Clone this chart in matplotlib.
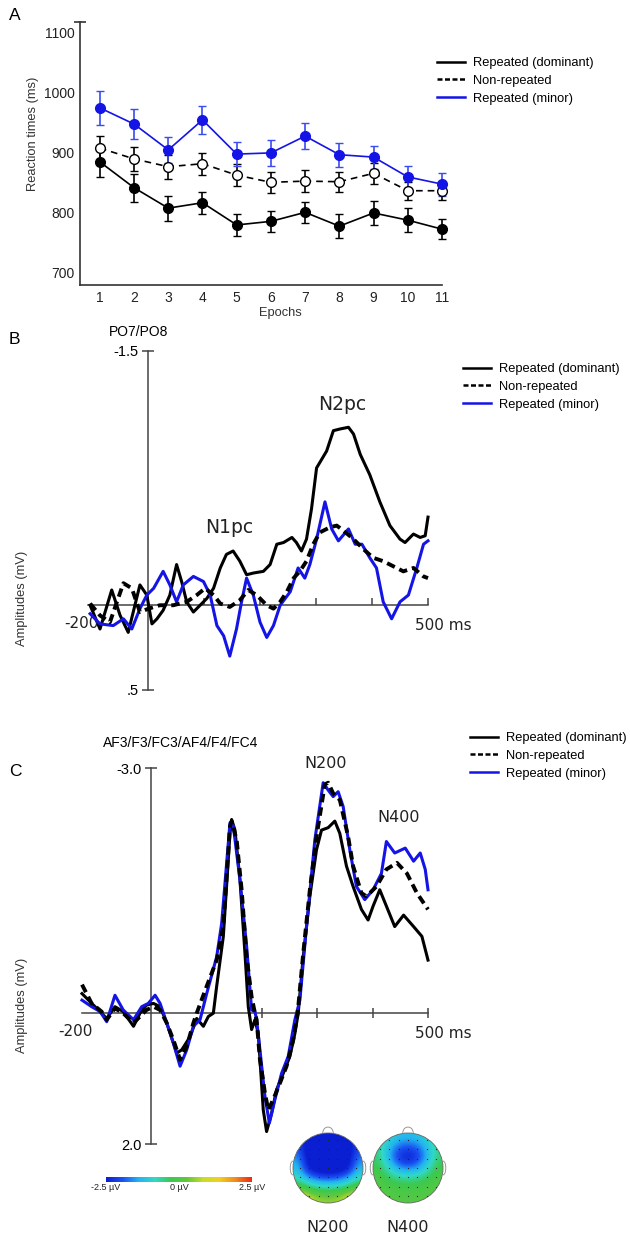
import numpy as np
import matplotlib.pyplot as plt
from matplotlib.lines import Line2D
from matplotlib.colors import LinearSegmentedColormap, Normalize
from matplotlib.cm import ScalarMappable
from matplotlib.patches import Circle, Arc

W, H = 630, 1237
SANS = ['Liberation Sans', 'DejaVu Sans']
VERD = ['DejaVu Sans']
BLUE = '#1414e6'
plt.rcParams['font.family'] = SANS

series_names = ['Repeated (dominant)', 'Non-repeated', 'Repeated (minor)']

# ---- A: reaction times (ms) per epoch
epochs = list(range(1, 12))
rt_dom = [885, 842, 808, 817, 780, 786, 801, 778, 800, 788, 773]
rt_dom_err = [25, 23, 21, 18, 18, 17, 17, 20, 20, 20, 17]
rt_non = [908, 890, 877, 882, 863, 851, 853, 852, 866, 837, 837]
rt_non_err = [20, 20, 20, 18, 18, 17, 18, 17, 17, 15, 15]
rt_min = [975, 948, 905, 955, 898, 900, 928, 897, 893, 860, 848]
rt_min_err = [28, 25, 22, 23, 20, 22, 22, 20, 19, 18, 19]

# ---- B: PO7/PO8 waveforms (ms, amplitude)
b_t_dom = [-193, -160, -121, -93, -66, -27, -4, 7, 16, 27, 39, 51, 60, 69, 81, 93, 105, 117, 129, 140,
           152, 164, 176, 188, 206, 218, 230, 242, 257, 265, 274, 283, 292, 301, 310, 319, 331, 343, 358, 367,
           379, 396, 414, 432, 450, 459, 474, 486, 495, 500]
b_v_dom = [0.00, 0.14, -0.09, 0.06, 0.16, -0.12, -0.06, 0.11, 0.08, 0.03, -0.06, -0.24, -0.14, -0.02, 0.04, 0.00,
           -0.04, -0.10, -0.22, -0.30, -0.32, -0.26, -0.18, -0.19, -0.20, -0.24, -0.36, -0.37, -0.40, -0.37,
           -0.32, -0.39, -0.57, -0.81, -0.86, -0.91, -1.03, -1.04, -1.05, -1.01, -0.89, -0.77, -0.61, -0.47,
           -0.39, -0.37, -0.42, -0.40, -0.41, -0.52]
b_t_non = [-193, -160, -127, -82, -54, -27, 1, 21, 45, 69, 87, 102, 117, 129, 146, 164, 179, 194, 212, 224,
           236, 248, 260, 271, 283, 295, 307, 325, 337, 349, 367, 385, 402, 420, 438, 456, 474, 492, 500]
b_v_non = [-0.01, 0.06, 0.10, -0.13, -0.10, 0.04, 0.02, 0, 0, -0.02, -0.06, -0.10, -0.06, -0.01, 0.01, -0.03,
           -0.09, -0.06, 0, 0.02, -0.02, -0.08, -0.16, -0.20, -0.26, -0.36, -0.43, -0.46, -0.47, -0.44,
           -0.39, -0.33, -0.28, -0.26, -0.23, -0.20, -0.22, -0.17, -0.16]
b_t_min = [-193, -160, -116, -82, -54, -27, -4, 10, 27, 39, 51, 63, 81, 99, 111, 123, 135, 146, 158, 167,
           176, 188, 200, 212, 224, 236, 254, 268, 280, 289, 301, 316, 328, 340, 358, 370, 382, 396, 408, 420,
           435, 450, 465, 480, 492, 500]
b_v_min = [0.05, 0.11, 0.12, 0.08, 0.14, 0.02, -0.06, -0.10, -0.20, -0.12, -0.02, -0.12, -0.17, -0.14, -0.06,
           0.12, 0.18, 0.30, 0.14, -0.02, -0.16, -0.06, 0.10, 0.19, 0.12, 0, -0.08, -0.22, -0.16, -0.24,
           -0.39, -0.61, -0.45, -0.38, -0.45, -0.36, -0.36, -0.28, -0.22, -0.02, 0.08, -0.02, -0.06, -0.22,
           -0.36, -0.38]

# ---- C: AF3/F3/FC3/AF4/F4/FC4 waveforms (ms, amplitude)
c_t_dom = [-200, -128, -104, -80, -50, -31, -12, 5, 17, 29, 47, 56, 71, 83, 95, 104, 113, 119, 131, 143,
           146, 152, 161, 170, 176, 182, 188, 194, 203, 209, 218, 227, 239, 251, 260, 266, 275, 287, 299, 308,
           320, 332, 341, 353, 365, 380, 392, 401, 413, 425, 440, 456, 474, 489, 500]
c_v_dom = [-0.24, 0.08, -0.08, -0.02, 0.20, 0, -0.10, -0.12, -0.08, 0.15, 0.61, 0.56, 0.36, 0.08, 0.20, 0.05,
           0, -0.33, -0.94, -2.20, -2.37, -2.24, -1.63, -0.73, -0.08, 0.25, 0.10, 0.31, 1.48, 1.81,
           1.53, 1.17, 0.92, 0.66, 0.31, 0, -0.69, -1.43, -2.0, -2.24, -2.27, -2.35, -2.20, -1.80, -1.55,
           -1.27, -1.14, -1.31, -1.51, -1.31, -1.06, -1.20, -1.06, -0.94, -0.65]
c_t_non = [-200, -172, -143, -128, -104, -80, -50, -31, -12, 5, 17, 29, 41, 53, 65, 77, 83, 101, 119, 131,
           143, 146, 155, 164, 173, 182, 188, 191, 197, 206, 212, 221, 233, 245, 257, 265, 275, 287, 299, 314,
           320, 329, 341, 356, 365, 380, 389, 407, 425, 444, 462, 480, 492, 500]
c_v_non = [-0.35, -0.12, -0.02, 0.10, -0.06, 0, 0.15, 0.05, -0.04, -0.08, -0.04, 0.15, 0.41, 0.71, 0.51, 0.15,
           0, -0.33, -0.65, -1.06, -2.29, -2.35, -2.12, -1.51, -0.69, -0.20, 0, 0.10, 0.71, 1.22,
           1.48, 1.32, 1.07, 0.81, 0.41, 0, -0.73, -1.51, -2.16, -2.80, -2.82, -2.69, -2.61, -2.16, -1.80,
           -1.47, -1.43, -1.55, -1.76, -1.84, -1.71, -1.47, -1.35, -1.27]
c_t_min = [-200, -172, -147, -128, -104, -80, -50, -26, -7, 8, 17, 29, 41, 53, 65, 77, 89, 101, 119, 128,
           143, 149, 161, 173, 182, 188, 191, 197, 206, 214, 224, 236, 248, 260, 269, 281, 296, 311, 320, 329,
           338, 347, 359, 371, 386, 401, 416, 425, 440, 459, 474, 486, 495, 500]
c_v_min = [-0.16, -0.08, -0.02, 0.13, -0.22, -0.04, 0.10, -0.08, -0.12, -0.22, -0.12, 0.15, 0.46, 0.81, 0.56,
           0.20, 0.10, -0.24, -0.69, -1.10, -2.33, -2.29, -1.63, -0.82, -0.04, -0.02, 0.10, 0.56, 1.27, 1.68,
           1.32, 0.92, 0.66, 0.10, -0.16, -1.06, -2.12, -2.82, -2.73, -2.65, -2.71, -2.53, -2.0, -1.55, -1.39,
           -1.51, -1.71, -2.10, -1.96, -2.02, -1.86, -1.96, -1.76, -1.51]

# ---- scalp maps (uV), rows front -> back
topo_n200 = [[-2.2, -2.6, -2.8, -2.8, -2.8, -2.6, -2.2],
             [-1.9, -2.8, -3.0, -3.0, -3.0, -2.8, -2.0],
             [-1.5, -2.7, -3.0, -3.0, -3.0, -2.8, -1.7],
             [-1.2, -2.5, -2.9, -3.0, -2.9, -2.6, -1.3],
             [-0.8, -1.5, -1.9, -2.0, -1.9, -1.5, -0.8],
             [0.2, -0.2, -0.5, -0.6, -0.5, -0.2, 0.2],
             [1.6, 1.0, 0.6, 0.5, 0.6, 1.0, 1.6]]
topo_n400 = [[-0.5, -0.9, -1.2, -1.3, -1.2, -0.9, -0.5],
             [-0.5, -1.2, -1.9, -2.1, -1.9, -1.2, -0.5],
             [-0.4, -1.3, -2.2, -2.6, -2.2, -1.3, -0.4],
             [-0.2, -0.8, -1.5, -1.7, -1.5, -0.8, -0.2],
             [0.0, -0.3, -0.5, -0.6, -0.5, -0.3, 0.0],
             [0.1, 0.0, -0.1, -0.1, -0.1, 0.0, 0.1],
             [0.2, 0.1, 0.1, 0.0, 0.1, 0.1, 0.2]]

cmap = LinearSegmentedColormap.from_list('topo', ['#0a1ed2', '#1a50f0', '#22b4f0', '#30d8c8', '#3cc850',
                                                  '#60c83c', '#c8dc28', '#f0d020', '#f08a1e', '#f02814'])

fig = plt.figure(figsize=(W / 100, H / 100), dpi=100)


def px_box(x0, y0, x1, y1):
    return [x0 / W, 1 - y1 / H, (x1 - x0) / W, (y1 - y0) / H]


def ftext(x, y, s, **kw):
    kw.setdefault('ha', 'center')
    kw.setdefault('va', 'center')
    fig.text(x / W, 1 - y / H, s, **kw)


def squeeze(k, negative=True):
    # piecewise linear axis: one side of zero is drawn compressed by k
    if negative:
        fwd = lambda v: np.where(np.asarray(v) < 0, np.asarray(v) * k, v)
        inv = lambda v: np.where(np.asarray(v) < 0, np.asarray(v) / k, v)
    else:
        fwd = lambda v: np.where(np.asarray(v) > 0, np.asarray(v) * k, v)
        inv = lambda v: np.where(np.asarray(v) > 0, np.asarray(v) / k, v)
    return fwd, inv


def add_legend(x, y):
    handles = [Line2D([], [], color='black', lw=1.8),
               Line2D([], [], color='black', lw=1.8, ls=(0, (2, 1))),
               Line2D([], [], color=BLUE, lw=1.8)]
    fig.legend(handles, series_names, loc='upper left', bbox_to_anchor=(x / W, 1 - y / H),
               frameon=False, prop={'family': SANS, 'size': 9.3}, handlelength=2.2,
               handletextpad=0.6, labelspacing=0.45, borderpad=0, borderaxespad=0)


# ================= A
ax = fig.add_axes(px_box(80, 22, 442, 285))
ax.errorbar(epochs, rt_dom, yerr=rt_dom_err, color='black', marker='o', ms=7, lw=1.2,
            capsize=3, elinewidth=1.2, clip_on=False, zorder=3)
ax.errorbar(epochs, rt_non, yerr=rt_non_err, color='black', marker='o', ms=7, lw=1.2, ls=(0, (4, 3)),
            mfc='white', mec='black', capsize=3, elinewidth=1.2, clip_on=False, zorder=3)
ax.errorbar(epochs, rt_min, yerr=rt_min_err, color=BLUE, marker='o', ms=7, lw=1.2,
            capsize=3, elinewidth=1.2, ecolor='#3a4cf0', clip_on=False, zorder=3)
ax.set_xlim(0.42, 11.0)
ax.set_ylim(680, 1118)
ax.set_xticks(epochs)
ax.set_yticks([700, 800, 900, 1000, 1100])
ax.set_yticks([1118], minor=True)
ax.tick_params(length=0, labelsize=10, pad=4, colors='#222')
ax.tick_params(axis='y', which='minor', direction='inout', length=9, width=1.2, color='#333')
for s in ('top', 'right'):
    ax.spines[s].set_visible(False)
for s in ('left', 'bottom'):
    ax.spines[s].set_color('#333')
    ax.spines[s].set_linewidth(1.2)
ftext(33, 134, 'Reaction times (ms)', rotation=90, fontsize=9.3, color='#333')
ftext(280, 313, 'Epochs', fontsize=9.3, color='#333')
ftext(15, 16, 'A', fontsize=12.5)
add_legend(437, 57)


# ================= B and C
def erp_axes(box, k_pre, ylim, yticks, ylabels, xticks, xdir, ypos_k=None):
    a = fig.add_axes(px_box(*box))
    a.set_xscale('function', functions=squeeze(k_pre))
    if ypos_k is not None:
        a.set_yscale('function', functions=squeeze(ypos_k, negative=False))
    a.set_xlim(-200, 500)
    a.set_ylim(*ylim)
    a.spines['left'].set_position(('data', 0))
    a.spines['bottom'].set_position(('data', 0))
    for s in ('top', 'right'):
        a.spines[s].set_visible(False)
    for s in ('left', 'bottom'):
        a.spines[s].set_color('#444')
        a.spines[s].set_linewidth(1.1)
    a.set_yticks(yticks, ylabels)
    a.set_xticks(xticks, [''] * len(xticks))
    a.tick_params(axis='y', direction='inout', length=9, width=1.1, color='#444', labelsize=10.5, pad=2)
    a.tick_params(axis='x', direction=xdir, length=7 if xdir == 'inout' else 5, width=1.1, color='#444')
    a.patch.set_alpha(0)
    return a


def draw_traces(a, td, vd, tn, vn, tm, vm):
    a.plot(td, vd, color='black', lw=2.2, solid_joinstyle='round', clip_on=False, zorder=3)
    a.plot(tm, vm, color=BLUE, lw=2.2, solid_joinstyle='round', clip_on=False, zorder=4)
    a.plot(tn, vn, color='black', lw=2.8, ls=(0, (2.2, 1.3)), clip_on=False, zorder=5)
    a.annotate('-200', xy=(-200, 0), xytext=(-7, -18), textcoords='offset pixels',
               ha='center', va='center', fontsize=11, family=VERD, color='#222')
    a.annotate('500 ms', xy=(500, 0), xytext=(-13, -20), textcoords='offset pixels',
               ha='left', va='center', fontsize=11, family=VERD, color='#222')


axb = erp_axes((88, 351, 428, 690), 0.536, (0.5, -1.5), [-1.5, 0.5], ['-1.5', '.5'],
               [100, 200, 300, 400, 500], 'in')
draw_traces(axb, b_t_dom, b_v_dom, b_t_non, b_v_non, b_t_min, b_v_min)
ftext(14, 339, 'B', fontsize=12.5)
ftext(139, 332, 'PO7/PO8', fontsize=10)
ftext(22, 598, 'Amplitudes (mV)', rotation=90, fontsize=9.3, color='#333')
ftext(229, 528, 'N1pc', fontsize=13.5, family=VERD, color='#222')
ftext(342, 404, 'N2pc', fontsize=13.5, family=VERD, color='#222')
add_legend(463, 363)

axc = erp_axes((82, 768, 428, 1144), 0.619, (2.0, -3.0), [-3.0, 2.0], ['-3.0', '2.0'],
               [200, 300, 400, 500], 'inout', ypos_k=0.80)
draw_traces(axc, c_t_dom, c_v_dom, c_t_non, c_v_non, c_t_min, c_v_min)
ftext(15, 771, 'C', fontsize=12.5)
ftext(181, 743, 'AF3/F3/FC3/AF4/F4/FC4', fontsize=10)
ftext(22, 1005, 'Amplitudes (mV)', rotation=90, fontsize=9.3, color='#333')
ftext(326, 764, 'N200', fontsize=11.5, family=VERD, color='#222')
ftext(399, 818, 'N400', fontsize=11.5, family=VERD, color='#222')
add_legend(470, 732)

# colour scale
cax = fig.add_axes(px_box(106, 1177, 252, 1182))
cb = fig.colorbar(ScalarMappable(Normalize(-2.5, 2.5), cmap), cax=cax, orientation='horizontal',
                  ticks=[-2.5, 0, 2.5])
cb.outline.set_visible(False)
cb.set_ticklabels(['-2.5 µV', '0 µV', '2.5 µV'])
cax.tick_params(length=0, labelsize=6.5, pad=1, colors='#222')


# scalp maps
def topo(cx, cy, grid, name):
    r = 35.0
    a = fig.add_axes(px_box(cx - 45, cy - 45, cx + 45, cy + 45))
    a.set_xlim(-45 / r, 45 / r)
    a.set_ylim(-45 / r, 45 / r)
    a.axis('off')
    im = a.imshow(grid, cmap=cmap, vmin=-2.5, vmax=2.5, extent=(-1, 1, -1, 1),
                  interpolation='bicubic', origin='upper')
    im.set_clip_path(Circle((0, 0), 1, transform=a.transData))
    a.add_patch(Circle((0, 0), 1, fill=False, ec='#666', lw=0.6))
    a.add_patch(Arc((0, 1.0), 0.3, 0.34, theta1=0, theta2=180, ec='#888', lw=0.6))
    a.add_patch(Arc((-1.0, 0.0), 0.16, 0.4, theta1=90, theta2=270, ec='#888', lw=0.6))
    a.add_patch(Arc((1.0, 0.0), 0.16, 0.4, theta1=-90, theta2=90, ec='#888', lw=0.6))
    g = np.linspace(-0.8, 0.8, 7)
    gx, gy = np.meshgrid(g, g)
    keep = np.hypot(gx, gy) < 0.97
    a.scatter(gx[keep], gy[keep], s=0.8, color='#222', lw=0)
    ftext(cx, 1228, name, fontsize=11.5, family=VERD, color='#222')


topo(328, 1168, topo_n200, 'N200')
topo(408, 1168, topo_n400, 'N400')

fig.savefig('out.png', dpi=100, facecolor='white')
